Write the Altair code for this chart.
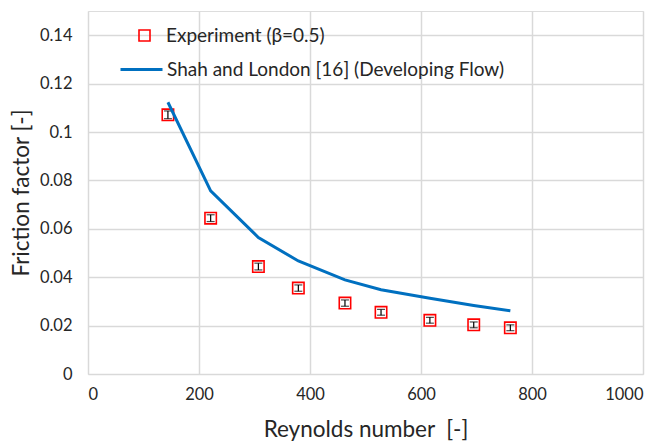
import altair as alt
import pandas as pd

# Experimental data
re_exp = [144, 221, 307, 379, 463, 528, 616, 695, 761]
f_exp = [0.1071, 0.0644, 0.0444, 0.0355, 0.0293, 0.0255, 0.0222, 0.0203, 0.0191]
f_err = [0.0016, 0.0014, 0.0014, 0.0013, 0.0013, 0.0012, 0.0012, 0.0012, 0.0012]

# Shah and London correlation
re_model = [144, 221, 307, 379, 463, 528, 616, 695, 761]
f_model = [0.1123, 0.0757, 0.0564, 0.0467, 0.0389, 0.0348, 0.0313, 0.0283, 0.0261]

x_ticks = [0, 200, 400, 600, 800, 1000]
y_ticks = [0, 0.02, 0.04, 0.06, 0.08, 0.1, 0.12, 0.14]

exp_name = "Experiment (β=0.5)"
model_name = "Shah and London [16] (Developing Flow)"

FONT = "Lato"
TXT = "#262626"

exp_df = pd.DataFrame({
    "Re": re_exp,
    "f": f_exp,
    "lo": [a - b for a, b in zip(f_exp, f_err)],
    "hi": [a + b for a, b in zip(f_exp, f_err)],
    "series": [exp_name] * len(re_exp),
})
model_df = pd.DataFrame({
    "Re": re_model,
    "f": f_model,
    "series": [model_name] * len(re_model),
})

xscale = alt.Scale(domain=[0, 1000], nice=False)
yscale = alt.Scale(domain=[0, 0.15], nice=False)

xaxis = alt.Axis(values=x_ticks, title="Reynolds number\u00a0\u00a0[-]", grid=True,
                 gridColor="#d9d9d9", gridWidth=1.5, domain=False, ticks=False,
                 labelFontSize=16.5, labelPadding=12, labelColor=TXT,
                 titleFontSize=22.5, titleFontWeight="normal", titlePadding=16,
                 titleColor=TXT, labelFont=FONT, titleFont=FONT, format="d")
yaxis = alt.Axis(values=y_ticks, title="Friction factor [-]", grid=True,
                 gridColor="#d9d9d9", gridWidth=1.5, domain=False, ticks=False,
                 labelFontSize=16.5, labelPadding=16, labelColor=TXT,
                 titleFontSize=22.5, titleFontWeight="normal", titlePadding=6,
                 titleColor=TXT, labelFont=FONT, titleFont=FONT, format="~g")

base_exp = alt.Chart(exp_df)

errbar = base_exp.mark_rule(color="black", strokeWidth=1.2).encode(
    x=alt.X("Re:Q", scale=xscale, axis=xaxis),
    y=alt.Y("lo:Q", scale=yscale, axis=yaxis),
    y2="hi:Q",
)
cap_lo = base_exp.mark_tick(color="black", orient="horizontal", size=8, thickness=1.2).encode(
    x=alt.X("Re:Q", scale=xscale),
    y=alt.Y("lo:Q", scale=yscale),
)
cap_hi = base_exp.mark_tick(color="black", orient="horizontal", size=8, thickness=1.2).encode(
    x=alt.X("Re:Q", scale=xscale),
    y=alt.Y("hi:Q", scale=yscale),
)

points = base_exp.mark_point(shape="square", filled=False, color="#ff0000",
                             size=130, strokeWidth=1.6, opacity=1).encode(
    x=alt.X("Re:Q", scale=xscale),
    y=alt.Y("f:Q", scale=yscale),
    shape=alt.Shape("series:N", scale=alt.Scale(domain=[exp_name], range=["square"]),
                    legend=alt.Legend(title=None, orient="none", legendX=47, legendY=15,
                                      padding=0, symbolSize=121, symbolStrokeColor="#ff0000",
                                      symbolFillColor="white", symbolStrokeWidth=1.6,
                                      labelFontSize=19, labelFont=FONT, labelColor=TXT,
                                      labelOffset=12, labelLimit=0)),
)

line = alt.Chart(model_df).mark_line(color="#0070c0", strokeWidth=3).encode(
    x=alt.X("Re:Q", scale=xscale),
    y=alt.Y("f:Q", scale=yscale),
    color=alt.Color("series:N", scale=alt.Scale(domain=[model_name], range=["#0070c0"]),
                    legend=alt.Legend(title=None, orient="none", legendX=31, legendY=36,
                                      padding=0, symbolType="stroke", symbolSize=1764,
                                      symbolStrokeWidth=3, labelFontSize=19, labelFont=FONT,
                                      labelColor=TXT, labelOffset=3, labelLimit=0)),
)

chart = alt.layer(errbar, cap_lo, cap_hi, points, line).resolve_scale(
    shape="independent", color="independent"
).resolve_legend(shape="independent", color="independent").properties(
    width=555, height=363,
    autosize=alt.AutoSizeParams(type="none"),
    padding={"left": 88, "top": 11, "right": 21, "bottom": 72},
).configure_view(stroke="black", strokeWidth=1.5).configure(background="white")

chart.save("out.html", embed_options={"renderer": "svg", "actions": False})
